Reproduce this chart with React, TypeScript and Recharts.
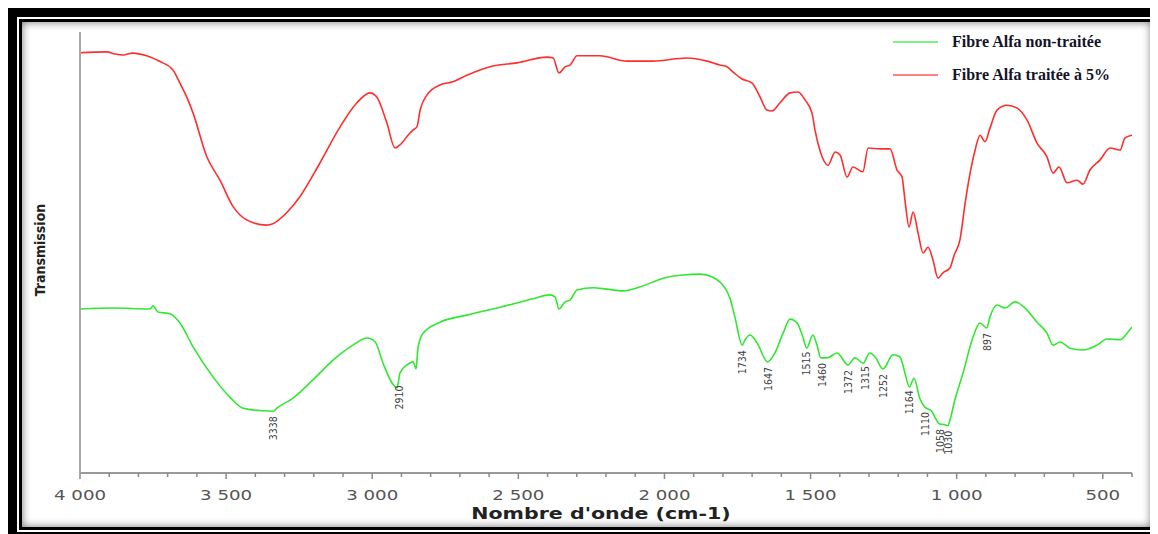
import { ComposedChart, Line, Scatter, XAxis, YAxis } from "recharts";

// FTIR spectra: [wavenumber cm-1, transmission (arb. units)]
const TREATED: [number, number][] = [
  [4000, 95.3], [3909, 95.5], [3880, 95.0], [3853, 94.8], [3820, 95.2], [3772, 94.6],
  [3726, 93.3], [3682, 91.4], [3658, 88.4], [3635, 85.3], [3613, 81.6], [3566, 71.7],
  [3521, 66.4], [3476, 60.4], [3430, 57.4], [3361, 56.2], [3340, 56.5], [3293, 59.0],
  [3247, 62.7], [3179, 70.3], [3110, 78.5], [3053, 83.9], [3008, 86.2], [2985, 85.3],
  [2950, 79.4], [2922, 73.7], [2905, 74.4], [2871, 77.1], [2860, 77.8], [2847, 78.5],
  [2836, 82.3], [2813, 85.7], [2768, 88.0], [2724, 88.7], [2676, 90.2], [2587, 92.3],
  [2505, 93.0], [2402, 94.3], [2381, 94.1], [2361, 90.7], [2340, 92.1], [2323, 92.5],
  [2299, 94.6], [2221, 94.6], [2128, 93.4], [2039, 93.4], [1923, 94.1], [1854, 93.4],
  [1810, 92.5], [1786, 92.1], [1765, 90.9], [1736, 89.4], [1700, 88.4], [1673, 85.3],
  [1649, 82.3], [1632, 82.1], [1605, 83.9], [1570, 86.2], [1543, 86.4], [1519, 84.6],
  [1495, 81.6], [1485, 77.8], [1468, 73.2], [1440, 69.8], [1416, 72.8], [1399, 72.1],
  [1375, 67.1], [1355, 69.4], [1321, 68.3], [1303, 73.7], [1262, 73.5], [1228, 73.5],
  [1204, 68.7], [1187, 67.1], [1177, 61.9], [1163, 55.8], [1149, 59.2], [1132, 54.4],
  [1115, 49.9], [1098, 51.2], [1081, 48.3], [1064, 44.2], [1047, 45.4], [1023, 46.5],
  [1008, 49.5], [989, 52.8], [971, 61.2], [954, 68.0], [937, 73.2], [920, 76.6],
  [903, 75.1], [886, 78.2], [862, 82.3], [828, 83.4], [794, 82.8], [759, 80.0],
  [725, 74.8], [691, 71.7], [670, 68.0], [650, 69.4], [622, 65.8], [588, 66.4],
  [568, 65.5], [544, 68.7], [509, 71.0], [475, 73.7], [441, 73.2], [424, 76.0],
  [400, 76.6],
];

const UNTREATED: [number, number][] = [
  [4000, 37.2], [3887, 37.4], [3760, 37.2], [3750, 37.9], [3733, 36.5], [3692, 36.1],
  [3658, 34.0], [3613, 28.6], [3545, 21.8], [3487, 17.2], [3442, 14.7], [3374, 14.1],
  [3338, 14.0], [3326, 14.7], [3271, 17.0], [3203, 21.1], [3134, 25.6], [3066, 29.0],
  [3018, 30.6], [2990, 29.7], [2963, 24.9], [2932, 20.4], [2915, 19.3], [2905, 22.7],
  [2881, 24.5], [2860, 25.2], [2850, 23.6], [2843, 28.6], [2826, 31.7], [2768, 34.2],
  [2676, 35.8], [2563, 37.6], [2450, 39.5], [2392, 40.4], [2374, 39.9], [2361, 37.2],
  [2340, 38.8], [2323, 39.2], [2299, 41.5], [2244, 42.0], [2197, 41.7], [2142, 41.3],
  [2084, 42.2], [1991, 44.4], [1936, 44.9], [1878, 45.1], [1834, 44.4], [1810, 43.3],
  [1800, 42.6], [1776, 39.7], [1759, 35.4], [1734, 29.0], [1724, 30.2], [1707, 31.3],
  [1683, 29.5], [1647, 25.2], [1622, 27.2], [1594, 31.7], [1570, 34.9], [1546, 34.0],
  [1526, 30.8], [1513, 28.3], [1492, 31.3], [1478, 29.0], [1465, 26.1], [1444, 26.1],
  [1409, 27.2], [1372, 24.5], [1348, 26.1], [1320, 24.9], [1298, 27.2], [1279, 26.3],
  [1252, 23.6], [1218, 26.8], [1194, 26.3], [1177, 22.7], [1162, 19.5], [1146, 21.5],
  [1126, 16.9], [1110, 15.0], [1087, 14.1], [1058, 11.1], [1045, 11.0], [1030, 10.7],
  [1023, 12.0], [1006, 16.6], [978, 22.7], [947, 30.2], [920, 34.0], [897, 32.9],
  [886, 35.4], [862, 38.1], [835, 37.4], [800, 38.8], [766, 37.4], [725, 34.2],
  [691, 31.7], [670, 29.0], [646, 29.7], [612, 28.3], [568, 27.9], [520, 29.0],
  [485, 30.4], [441, 30.2], [417, 31.7], [400, 33.1],
];

// bands annotated under the untreated spectrum
const PEAKS = [3338, 2910, 1734, 1647, 1515, 1460, 1372, 1315, 1252, 1164, 1110, 1058, 1030, 897];

const X_TICKS = [
  4000, 3900, 3800, 3700, 3600, 3500, 3400, 3300, 3200, 3100, 3000, 2900, 2800, 2700, 2600,
  2500, 2400, 2300, 2200, 2100, 2000, 1900, 1800, 1700, 1600, 1500, 1400, 1300, 1200, 1100,
  1000, 900, 800, 700, 600, 500, 400,
];

const SERIES = [
  { name: "Fibre Alfa non-traitée", color: "#2fe82f", data: UNTREATED },
  { name: "Fibre Alfa traitée à 5%", color: "#ff2e2e", data: TREATED },
];

const toRows = (pts: [number, number][]) => pts.map(([wn, t]) => ({ wn, t }));

function untreatedAt(wn: number) {
  for (let i = 0; i < UNTREATED.length - 1; i++) {
    const [x0, y0] = UNTREATED[i];
    const [x1, y1] = UNTREATED[i + 1];
    if (wn <= x0 && wn >= x1) return y0 + ((wn - x0) / (x1 - x0)) * (y1 - y0);
  }
  return 0;
}

const peakRows = PEAKS.map((wn) => ({ wn, t: untreatedAt(wn), label: String(wn) }));

const fmt = (v: number) => (v >= 1000 ? `${Math.floor(v / 1000)} ${String(v % 1000).padStart(3, "0")}` : String(v));

function WaveTick({ x, y, payload }: any) {
  const v = payload.value as number;
  const major = v % 500 === 0;
  return (
    <g>
      <line x1={x} x2={x} y1={y} y2={y + (major ? 6 : 4)} stroke="#8a8a8a" strokeWidth={1.5} />
      {major && (
        <text
          transform={`translate(${x},${y + 27}) scale(1.3,1)`}
          textAnchor="middle"
          fontSize={14}
          fontFamily="DejaVu Sans, Verdana, sans-serif"
          fill="#555"
        >
          {fmt(v)}
        </text>
      )}
    </g>
  );
}

function PeakLabel({ cx, cy, payload }: any) {
  if (cx == null || cy == null) return null;
  const y = cy + 5;
  return (
    <text
      x={cx}
      y={y}
      transform={`rotate(-90, ${cx}, ${y})`}
      textAnchor="end"
      dominantBaseline="central"
      fontSize={10.5}
      fontFamily="DejaVu Sans Condensed, DejaVu Sans, sans-serif"
      fill="#404040"
    >
      {payload.label}
    </text>
  );
}

export default function App() {
  return (
    <div style={{ width: 1150, height: 526, background: "#000", paddingTop: 9, paddingLeft: 9, boxSizing: "border-box" }}>
      <div style={{ width: 1139, height: 515, background: "#fff", padding: 2, boxSizing: "border-box" }}>
        <div
          style={{
            width: 1135,
            height: 511,
            border: "3px solid #000",
            boxSizing: "border-box",
            position: "relative",
            background: "#fff",
            boxShadow: "inset 0 0 9px rgba(0,0,0,0.55)",
          }}
        >
          <ComposedChart width={1129} height={505} margin={{ top: 10, right: 19, bottom: 0, left: 57 }}>
            <XAxis
              dataKey="wn"
              type="number"
              domain={[400, 4000]}
              reversed
              allowDataOverflow
              ticks={X_TICKS}
              interval={0}
              tick={<WaveTick />}
              tickLine={false}
              tickSize={0}
              tickMargin={0}
              height={54}
              axisLine={{ stroke: "#9a9a9a", strokeWidth: 2 }}
            />
            <YAxis
              type="number"
              domain={[0, 100]}
              width={1}
              tick={false}
              tickLine={false}
              axisLine={{ stroke: "#a8a8a8", strokeWidth: 2 }}
            />
            {SERIES.map((s) => (
              <Line
                key={s.name}
                data={toRows(s.data)}
                dataKey="t"
                type="monotone"
                stroke={s.color}
                strokeWidth={1.6}
                dot={false}
                isAnimationActive={false}
              />
            ))}
            <Scatter data={peakRows} dataKey="t" shape={<PeakLabel />} isAnimationActive={false} />
          </ComposedChart>

          {/* legend */}
          {SERIES.map((s, i) => (
            <div key={s.name}>
              <div
                style={{
                  position: "absolute",
                  left: 871,
                  top: 19 + i * 33,
                  width: 45,
                  height: 2,
                  background: s.color,
                  opacity: 0.6,
                }}
              />
              <div
                style={{
                  position: "absolute",
                  left: 930,
                  top: 20 + i * 33,
                  transform: "translateY(-50%)",
                  font: "bold 16px 'Liberation Serif', 'Times New Roman', serif",
                  color: "#141428",
                  whiteSpace: "nowrap",
                  lineHeight: 1,
                }}
              >
                {s.name}
              </div>
            </div>
          ))}

          <div
            style={{
              position: "absolute",
              left: 18,
              top: 228,
              transform: "translate(-50%, -50%) rotate(-90deg)",
              font: "bold 14px 'DejaVu Sans Condensed', 'DejaVu Sans', sans-serif",
              color: "#222",
              whiteSpace: "nowrap",
              lineHeight: 1,
            }}
          >
            Transmission
          </div>
          <div
            style={{
              position: "absolute",
              left: 579,
              top: 492,
              transform: "translate(-50%, -50%) scaleX(1.37)",
              font: "bold 15px 'DejaVu Sans', Verdana, sans-serif",
              color: "#222",
              whiteSpace: "nowrap",
              lineHeight: 1,
            }}
          >
            Nombre d'onde (cm-1)
          </div>
        </div>
      </div>
    </div>
  );
}
